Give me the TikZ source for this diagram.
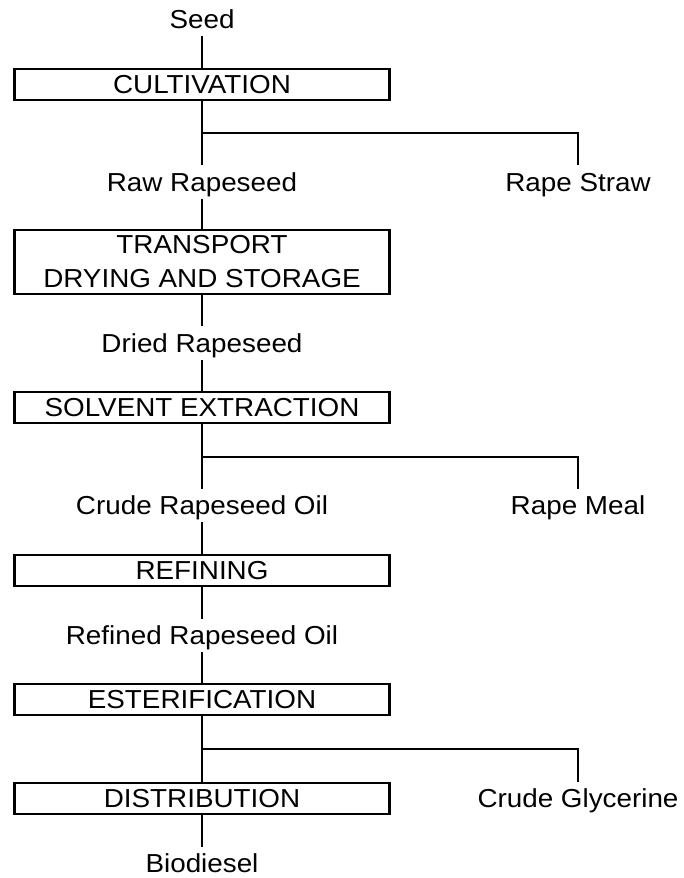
\documentclass[tikz,border=0pt]{standalone}
\usepackage{fontspec}
\setmainfont[FakeStretch=1.07]{Liberation Sans}
\begin{document}
\begin{tikzpicture}[x=1pt,y=-1pt,
  every node/.style={font=\fontsize{26}{34}\selectfont, inner sep=0pt},
  lbl/.style={minimum height=33pt, text height=18.6pt, text depth=0pt},
  stepbox/.style={draw, line width=2.3pt, minimum width=375pt, minimum height=31pt, text height=18.6pt, text depth=0pt},
  conn/.style={line width=2.3pt}]
\useasboundingbox (0,0) rectangle (683,878);
\node[lbl] (seed) at (202,19) {Seed};
\node[stepbox] (cult) at (202,84.5) {CULTIVATION};
\node[lbl] (raw) at (202,182) {Raw Rapeseed};
\node[lbl] (straw) at (578,182) {Rape Straw};
\node[draw, line width=2.3pt, minimum width=375pt, minimum height=63.6pt, align=center] (trans) at (202,262) {TRANSPORT\\DRYING AND STORAGE};
\node[lbl] (dried) at (202,343) {Dried Rapeseed};
\node[stepbox] (solv) at (202,407.5) {SOLVENT EXTRACTION};
\node[lbl] (crude) at (202,505.5) {Crude Rapeseed Oil};
\node[lbl] (meal) at (578,505.5) {Rape Meal};
\node[stepbox] (ref) at (202,570.5) {REFINING};
\node[lbl] (refoil) at (202,635.5) {Refined Rapeseed Oil};
\node[stepbox] (ester) at (202,699.5) {ESTERIFICATION};
\node[stepbox] (dist) at (202,798.5) {DISTRIBUTION};
\node[lbl] (glyc) at (578,798.5) {Crude Glycerine};
\node[lbl] (bio) at (202,863.5) {Biodiesel};
\coordinate (b1) at (202,133);
\coordinate (b2) at (202,457);
\coordinate (b3) at (202,749);
\draw[conn] (seed) -- (cult);
\draw[conn] (cult) -- (raw);
\draw[conn] (b1) -| (straw.north);
\draw[conn] (raw) -- (trans);
\draw[conn] (trans) -- (dried);
\draw[conn] (dried) -- (solv);
\draw[conn] (solv) -- (crude);
\draw[conn] (b2) -| (meal.north);
\draw[conn] (crude) -- (ref);
\draw[conn] (ref) -- (refoil);
\draw[conn] (refoil) -- (ester);
\draw[conn] (ester) -- (dist);
\draw[conn] (b3) -| (glyc.north);
\draw[conn] (dist) -- (bio);
\end{tikzpicture}
\end{document}
